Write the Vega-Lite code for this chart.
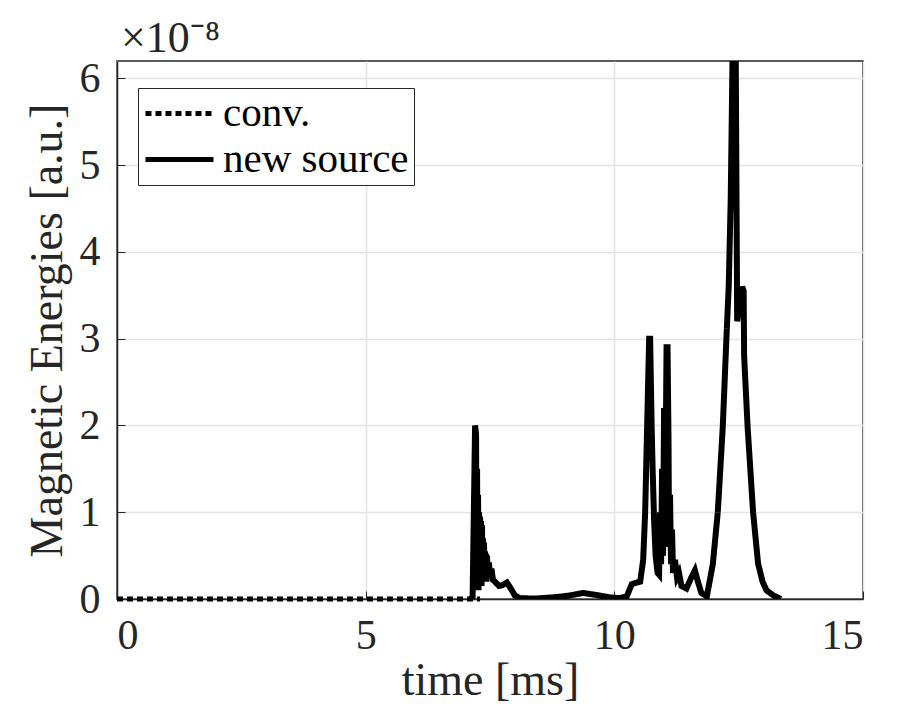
{
  "$schema": "https://vega.github.io/schema/vega-lite/v6.json",
  "autosize": "none",
  "width": 746,
  "height": 538,
  "padding": {"left": 117, "top": 61, "right": 35, "bottom": 110},
  "background": "white",
  "title": {
    "text": "×10⁻⁸",
    "anchor": "start",
    "frame": "group",
    "font": "Liberation Serif",
    "fontSize": 44,
    "fontWeight": "normal",
    "color": "#262626",
    "offset": -4,
    "dx": 4
  },
  "config": {
    "view": {"stroke": "#262626", "strokeWidth": 1.5},
    "axis": {
      "labelFont": "Liberation Serif",
      "titleFont": "Liberation Serif",
      "labelFontSize": 42,
      "titleFontSize": 46,
      "titleFontWeight": "normal",
      "labelColor": "#262626",
      "titleColor": "#262626",
      "domainColor": "#262626",
      "domainWidth": 1.5,
      "tickColor": "#262626",
      "tickSize": -8,
      "gridColor": "#e3e3e3",
      "gridWidth": 1.5
    },
    "legend": {
      "labelFont": "Liberation Serif",
      "labelFontSize": 41,
      "labelColor": "black",
      "labelLimit": 0
    }
  },
  "data": {
    "values": [
      {"t": 0, "v": 0, "series": "conv."},
      {"t": 7.3, "v": 0, "series": "conv."},
      {"t": 7.10, "v": 0, "series": "new source"},
      {"t": 7.15, "v": 0.02, "series": "new source"},
      {"t": 7.18, "v": 1.2, "series": "new source"},
      {"t": 7.20, "v": 2.0, "series": "new source"},
      {"t": 7.22, "v": 1.9, "series": "new source"},
      {"t": 7.23, "v": 0.1, "series": "new source"},
      {"t": 7.24, "v": 1.5, "series": "new source"},
      {"t": 7.25, "v": 0.1, "series": "new source"},
      {"t": 7.26, "v": 1.2, "series": "new source"},
      {"t": 7.27, "v": 0.1, "series": "new source"},
      {"t": 7.28, "v": 1.0, "series": "new source"},
      {"t": 7.29, "v": 0.15, "series": "new source"},
      {"t": 7.30, "v": 0.95, "series": "new source"},
      {"t": 7.31, "v": 0.15, "series": "new source"},
      {"t": 7.32, "v": 0.9, "series": "new source"},
      {"t": 7.33, "v": 0.15, "series": "new source"},
      {"t": 7.34, "v": 0.85, "series": "new source"},
      {"t": 7.35, "v": 0.2, "series": "new source"},
      {"t": 7.36, "v": 0.7, "series": "new source"},
      {"t": 7.37, "v": 0.2, "series": "new source"},
      {"t": 7.38, "v": 0.65, "series": "new source"},
      {"t": 7.39, "v": 0.2, "series": "new source"},
      {"t": 7.40, "v": 0.55, "series": "new source"},
      {"t": 7.41, "v": 0.2, "series": "new source"},
      {"t": 7.42, "v": 0.52, "series": "new source"},
      {"t": 7.43, "v": 0.2, "series": "new source"},
      {"t": 7.44, "v": 0.5, "series": "new source"},
      {"t": 7.46, "v": 0.25, "series": "new source"},
      {"t": 7.48, "v": 0.42, "series": "new source"},
      {"t": 7.50, "v": 0.25, "series": "new source"},
      {"t": 7.53, "v": 0.35, "series": "new source"},
      {"t": 7.56, "v": 0.22, "series": "new source"},
      {"t": 7.60, "v": 0.2, "series": "new source"},
      {"t": 7.68, "v": 0.15, "series": "new source"},
      {"t": 7.75, "v": 0.16, "series": "new source"},
      {"t": 7.84, "v": 0.19, "series": "new source"},
      {"t": 7.92, "v": 0.12, "series": "new source"},
      {"t": 8.00, "v": 0.04, "series": "new source"},
      {"t": 8.10, "v": 0.01, "series": "new source"},
      {"t": 8.40, "v": 0.005, "series": "new source"},
      {"t": 8.80, "v": 0.02, "series": "new source"},
      {"t": 9.10, "v": 0.04, "series": "new source"},
      {"t": 9.37, "v": 0.07, "series": "new source"},
      {"t": 9.60, "v": 0.05, "series": "new source"},
      {"t": 9.90, "v": 0.02, "series": "new source"},
      {"t": 10.10, "v": 0.01, "series": "new source"},
      {"t": 10.25, "v": 0.03, "series": "new source"},
      {"t": 10.35, "v": 0.17, "series": "new source"},
      {"t": 10.45, "v": 0.19, "series": "new source"},
      {"t": 10.52, "v": 0.2, "series": "new source"},
      {"t": 10.58, "v": 0.45, "series": "new source"},
      {"t": 10.62, "v": 1.0, "series": "new source"},
      {"t": 10.66, "v": 2.0, "series": "new source"},
      {"t": 10.70, "v": 3.0, "series": "new source"},
      {"t": 10.72, "v": 3.0, "series": "new source"},
      {"t": 10.75, "v": 2.0, "series": "new source"},
      {"t": 10.77, "v": 1.5, "series": "new source"},
      {"t": 10.80, "v": 0.9, "series": "new source"},
      {"t": 10.83, "v": 0.5, "series": "new source"},
      {"t": 10.87, "v": 0.3, "series": "new source"},
      {"t": 10.90, "v": 0.28, "series": "new source"},
      {"t": 10.92, "v": 1.0, "series": "new source"},
      {"t": 10.94, "v": 0.4, "series": "new source"},
      {"t": 10.96, "v": 1.5, "series": "new source"},
      {"t": 10.98, "v": 0.5, "series": "new source"},
      {"t": 11.00, "v": 2.2, "series": "new source"},
      {"t": 11.02, "v": 0.8, "series": "new source"},
      {"t": 11.05, "v": 2.9, "series": "new source"},
      {"t": 11.07, "v": 2.9, "series": "new source"},
      {"t": 11.09, "v": 1.8, "series": "new source"},
      {"t": 11.10, "v": 0.6, "series": "new source"},
      {"t": 11.12, "v": 1.2, "series": "new source"},
      {"t": 11.14, "v": 0.4, "series": "new source"},
      {"t": 11.16, "v": 0.8, "series": "new source"},
      {"t": 11.18, "v": 0.3, "series": "new source"},
      {"t": 11.22, "v": 0.45, "series": "new source"},
      {"t": 11.26, "v": 0.25, "series": "new source"},
      {"t": 11.30, "v": 0.3, "series": "new source"},
      {"t": 11.35, "v": 0.15, "series": "new source"},
      {"t": 11.45, "v": 0.12, "series": "new source"},
      {"t": 11.55, "v": 0.25, "series": "new source"},
      {"t": 11.62, "v": 0.33, "series": "new source"},
      {"t": 11.68, "v": 0.2, "series": "new source"},
      {"t": 11.75, "v": 0.07, "series": "new source"},
      {"t": 11.86, "v": 0.03, "series": "new source"},
      {"t": 11.98, "v": 0.4, "series": "new source"},
      {"t": 12.08, "v": 1.0, "series": "new source"},
      {"t": 12.18, "v": 1.98, "series": "new source"},
      {"t": 12.26, "v": 3.09, "series": "new source"},
      {"t": 12.30, "v": 3.6, "series": "new source"},
      {"t": 12.34, "v": 4.6, "series": "new source"},
      {"t": 12.38, "v": 6.4, "series": "new source"},
      {"t": 12.44, "v": 6.4, "series": "new source"},
      {"t": 12.47, "v": 3.2, "series": "new source"},
      {"t": 12.52, "v": 3.4, "series": "new source"},
      {"t": 12.57, "v": 3.6, "series": "new source"},
      {"t": 12.60, "v": 3.55, "series": "new source"},
      {"t": 12.61, "v": 2.8, "series": "new source"},
      {"t": 12.68, "v": 1.98, "series": "new source"},
      {"t": 12.79, "v": 1.0, "series": "new source"},
      {"t": 12.89, "v": 0.41, "series": "new source"},
      {"t": 12.98, "v": 0.2, "series": "new source"},
      {"t": 13.06, "v": 0.1, "series": "new source"},
      {"t": 13.20, "v": 0.04, "series": "new source"},
      {"t": 13.35, "v": 0.0, "series": "new source"}
    ]
  },
  "encoding": {
    "x": {
      "field": "t",
      "type": "quantitative",
      "scale": {"domain": [0, 15], "nice": false},
      "axis": {"values": [0, 5, 10, 15], "title": "time [ms]", "labelPadding": 24, "titlePadding": 2}
    },
    "y": {
      "field": "v",
      "type": "quantitative",
      "scale": {"domain": [0, 6.2], "nice": false},
      "axis": {"values": [0, 1, 2, 3, 4, 5, 6], "title": "Magnetic Energies [a.u.]", "labelPadding": 25, "titlePadding": 8}
    },
    "color": {
      "field": "series",
      "type": "nominal",
      "scale": {"domain": ["conv.", "new source"], "range": ["black", "black"]},
      "legend": {
        "title": null,
        "orient": "none",
        "legendX": 21,
        "legendY": 27,
        "symbolType": "M-2,0H2",
        "symbolSize": 1156,
        "symbolStrokeWidth": 5,
        "symbolOffset": 16,
        "strokeColor": "#262626",
        "fillColor": "white",
        "padding": 5,
        "rowPadding": 4,
        "labelOffset": 23
      }
    },
    "strokeDash": {
      "field": "series",
      "type": "nominal",
      "scale": {"domain": ["conv.", "new source"], "range": [[6, 4], [1, 0]]},
      "legend": null
    },
    "order": {"field": "t", "type": "quantitative"}
  },
  "layer": [
    {
      "transform": [{"filter": "datum.series === 'conv.'"}],
      "mark": {"type": "line", "strokeWidth": 5, "clip": false}
    },
    {
      "transform": [{"filter": "datum.series === 'new source'"}],
      "mark": {"type": "line", "strokeWidth": 6, "clip": true}
    }
  ]
}
